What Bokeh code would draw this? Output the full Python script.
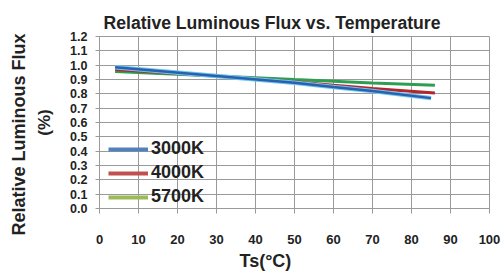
from bokeh.plotting import figure
from bokeh.models import (Range1d, Legend, LegendItem, FixedTicker, Title,
                          PrintfTickFormatter)
from bokeh.embed import file_html
from bokeh.resources import INLINE

# Data
temps_3000 = [4, 30, 50, 60, 70, 85]
flux_3000 = [0.985, 0.925, 0.877, 0.848, 0.82, 0.77]
temps_4000 = [4, 30, 50, 60, 70, 86]
flux_4000 = [0.97, 0.925, 0.885, 0.86, 0.838, 0.805]
temps_5700 = [4, 30, 50, 60, 70, 86]
flux_5700 = [0.955, 0.925, 0.90, 0.888, 0.875, 0.86]
series_names = ["3000K", "4000K", "5700K"]
x_ticks = [0, 10, 20, 30, 40, 50, 60, 70, 80, 90, 100]
y_ticks = [0.0, 0.1, 0.2, 0.3, 0.4, 0.5, 0.6, 0.7, 0.8, 0.9, 1.0, 1.1, 1.2]

FONT = "Liberation Sans"
GRID = "#9a9a9a"
TXT = "#222222"

p = figure(width=503, height=276, output_backend="svg", toolbar_location=None,
           x_range=Range1d(0, 100), y_range=Range1d(0, 1.2),
           min_border_left=99, min_border_right=14, min_border_top=36,
           min_border_bottom=68, background_fill_color="white",
           border_fill_color="white", outline_line_color=GRID)

p.title.text = "Relative Luminous Flux vs. Temperature"
p.title.text_font = FONT
p.title.text_font_size = "17.6px"
p.title.text_font_style = "bold"
p.title.text_color = TXT
p.title.align = "left"
p.title.offset = 4
p.title.standoff = 8

# grids
p.xgrid.ticker = FixedTicker(ticks=x_ticks)
p.ygrid.ticker = FixedTicker(ticks=y_ticks)
for g in (p.xgrid, p.ygrid):
    g.grid_line_color = GRID
    g.grid_line_width = 1

# x axis
xa = p.xaxis[0]
xa.ticker = FixedTicker(ticks=x_ticks)
xa.major_label_text_font = FONT
xa.major_label_text_font_size = "13px"
xa.major_label_text_font_style = "bold"
xa.major_label_text_color = TXT
xa.major_label_standoff = 21
xa.major_tick_out = 5
xa.major_tick_in = 0
xa.minor_tick_line_color = None
xa.major_tick_line_color = GRID
xa.axis_line_color = GRID

xt = Title(text="Ts(°C)", align="left", offset=140, text_font=FONT,
           text_font_size="18px", text_font_style="bold", text_color=TXT,
           standoff=5)
p.add_layout(xt, "below")

# y axis (inner label "(%)")
ya = p.yaxis[0]
ya.ticker = FixedTicker(ticks=y_ticks)
ya.formatter = PrintfTickFormatter(format="%.1f")
ya.axis_label = "(%)"
ya.axis_label_text_font = FONT
ya.axis_label_text_font_size = "17px"
ya.axis_label_text_font_style = "bold"
ya.axis_label_text_color = TXT
ya.axis_label_standoff = 13
ya.major_label_text_font = FONT
ya.major_label_text_font_size = "12.5px"
ya.major_label_text_font_style = "bold"
ya.major_label_text_color = TXT
ya.major_label_standoff = 8
ya.major_tick_out = 4
ya.major_tick_in = 0
ya.minor_tick_line_color = None
ya.major_tick_line_color = GRID
ya.axis_line_color = GRID

yt = Title(text="Relative Luminous Flux", align="left", offset=-27,
           text_font=FONT, text_font_size="18px", text_font_style="bold",
           text_color=TXT, standoff=8)
p.add_layout(yt, "left")

# series lines
p.line(temps_5700, flux_5700, line_color="#2e9e50", line_width=3)
p.line(temps_4000, flux_4000, line_color="#b3262d", line_width=3)
p.line(temps_3000, flux_3000, line_color="#6cc8ee", line_width=4.5)
p.line(temps_3000, flux_3000, line_color="#2c5fae", line_width=2.5)

# legend (own swatches in legend colours)
lg_colors = ["#4f81bd", "#c0504d", "#9bbb59"]
items = []
for name, c in zip(series_names, lg_colors):
    r = p.line([float("nan")], [float("nan")], line_color=c, line_width=4)
    items.append(LegendItem(label=name, renderers=[r]))
legend = Legend(items=items, location=(9, 1), background_fill_alpha=0,
                border_line_color=None, padding=0, margin=0, spacing=3,
                glyph_width=40, glyph_height=20, label_height=20,
                label_standoff=3, label_text_font=FONT,
                label_text_font_size="18px", label_text_font_style="bold",
                label_text_color=TXT)
p.add_layout(legend, "center")

open("out.html", "w").write(file_html(p, INLINE))
